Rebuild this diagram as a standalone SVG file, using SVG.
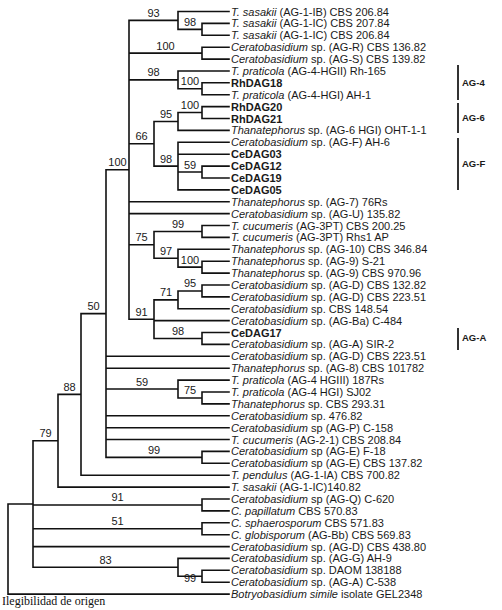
<svg xmlns="http://www.w3.org/2000/svg" width="502" height="610" viewBox="0 0 502 610">
<style>
.br{fill:none;stroke:#111;stroke-width:1.6;stroke-linecap:square}
.lf{font-family:"Liberation Sans",Arial,sans-serif;font-size:11px;fill:#1a1a1a}
.b{font-weight:bold}
.bs{font-family:"Liberation Sans",Arial,sans-serif;font-size:11px;fill:#1a1a1a;text-anchor:middle}
.grp{font-family:"Liberation Sans",Arial,sans-serif;font-size:9.5px;font-weight:bold;fill:#1a1a1a}
.bar{stroke:#333;stroke-width:2}
.cap{font-family:"Liberation Serif","Times New Roman",serif;font-size:12px;fill:#111}
</style>
<rect width="502" height="610" fill="#fff"/>
<g id="connectors">
<path class="br" d="
M178 11.5H229 M178 11.5V29.35 M178 29.35H202 M202 23.4V35.3 M202 23.4H229 M202 35.3H229
M129 20.4H178 M129 20.4V319.2
M129 53.15H202 M202 47.2V59.1 M202 47.2H229 M202 59.1H229
M129 79.9H178 M178 71V88.75 M178 71H229 M178 88.75H202 M202 82.8V94.7 M202 82.8H229 M202 94.7H229
M129 143.8H154 M154 121.5V166.1
M154 121.5H178 M178 112.55V130.4 M178 130.4H229 M178 112.55H202 M202 106.6V118.5 M202 106.6H229 M202 118.5H229
M154 166.1H178 M178 142.3V189.9 M178 142.3H229 M178 154.2H229 M178 189.9H229 M178 172.05H202 M202 166.1V178 M202 166.1H229 M202 178H229
M129 201.7H229 M129 213.6H229
M129 244.8H154 M154 231.45V258.2 M154 231.45H202 M202 225.5V237.4 M202 225.5H229 M202 237.4H229
M154 258.2H178 M178 249.3V267.15 M178 249.3H229 M178 267.15H202 M202 261.2V273.1 M202 261.2H229 M202 273.1H229
M129 319.2H154 M154 299.9V338.45 M154 299.9H178 M178 290.95V308.8 M178 308.8H229 M178 290.95H202 M202 285V296.9 M202 285H229 M202 296.9H229
M154 320.6H229 M154 338.45H202 M202 332.5V344.4 M202 332.5H229 M202 344.4H229
M106 169.8H129 M106 169.8V457.35
M106 356.3H229 M106 368.2H229
M106 389H178 M178 380.1V397.95 M178 380.1H229 M178 397.95H202 M202 392V403.9 M202 392H229 M202 403.9H229
M106 415.8H229 M106 427.7H229 M106 439.5H229
M106 457.35H202 M202 451.4V463.3 M202 451.4H229 M202 463.3H229
M81 313.6H106 M81 313.6V475.2 M81 475.2H229
M58 394.4H81 M58 394.4V487.1 M58 487.1H229
M33 440.75H58 M33 440.75V567.3
M33 504.95H202 M202 499V510.9 M202 499H229 M202 510.9H229
M33 528.75H202 M202 522.8V534.7 M202 522.8H229 M202 534.7H229
M33 546.6H229
M33 567.3H178 M178 558.4V576.25 M178 558.4H229 M178 576.25H202 M202 570.3V582.2 M202 570.3H229 M202 582.2H229
M8 504H33 M8 504V594.1 M8 594.1H229"/>
</g>
<g id="bootstrap" class="bs">
<text x="153.5" y="16.9">93</text>
<text x="190" y="25.8">98</text>
<text x="165.5" y="49.6">100</text>
<text x="153.5" y="76.4">98</text>
<text x="190" y="85.2">100</text>
<text x="190" y="109">100</text>
<text x="166" y="118">95</text>
<text x="141.5" y="140.3">66</text>
<text x="166" y="162.6">98</text>
<text x="190" y="168.5">59</text>
<text x="117.5" y="166.3">100</text>
<text x="178" y="227.9">99</text>
<text x="141.5" y="241.3">75</text>
<text x="166" y="254.7">97</text>
<text x="190" y="263.6">100</text>
<text x="190" y="287.4">95</text>
<text x="166" y="296.4">71</text>
<text x="141.5" y="315.7">91</text>
<text x="178" y="334.9">98</text>
<text x="93.5" y="310.1">50</text>
<text x="142" y="385.5">59</text>
<text x="190" y="394.4">75</text>
<text x="154" y="453.8">99</text>
<text x="69.5" y="390.9">88</text>
<text x="45.5" y="437.2">79</text>
<text x="117.5" y="501.4">91</text>
<text x="117.5" y="525.2">51</text>
<text x="105.5" y="563.8">83</text>
<text x="190" y="582">99</text>
</g>
<g class="lf">
<g id="leaf1"><text x="231" y="15.5"><tspan font-style="italic">T. sasakii</tspan> (AG-1-IB) CBS 206.84</text></g>
<g id="leaf2"><text x="231" y="27.4"><tspan font-style="italic">T. sasakii</tspan> (AG-1-IC) CBS 207.84</text></g>
<g id="leaf3"><text x="231" y="39.3"><tspan font-style="italic">T. sasakii</tspan> (AG-1-IC) CBS 206.84</text></g>
<g id="leaf4"><text x="231" y="51.2"><tspan font-style="italic">Ceratobasidium</tspan> sp. (AG-R) CBS 136.82</text></g>
<g id="leaf5"><text x="231" y="63.1"><tspan font-style="italic">Ceratobasidium</tspan> sp. (AG-S) CBS 139.82</text></g>
<g id="leaf6"><text x="231" y="75"><tspan font-style="italic">T. praticola</tspan> (AG-4-HGII) Rh-165</text></g>
<g id="leaf7"><text x="231" y="86.8" class="b">RhDAG18</text></g>
<g id="leaf8"><text x="231" y="98.7"><tspan font-style="italic">T. praticola</tspan> (AG-4-HGI) AH-1</text></g>
<g id="leaf9"><text x="231" y="110.6" class="b">RhDAG20</text></g>
<g id="leaf10"><text x="231" y="122.5" class="b">RhDAG21</text></g>
<g id="leaf11"><text x="231" y="134.4"><tspan font-style="italic">Thanatephorus</tspan> sp. (AG-6 HGI) OHT-1-1</text></g>
<g id="leaf12"><text x="231" y="146.3"><tspan font-style="italic">Ceratobasidium</tspan> sp. (AG-F) AH-6</text></g>
<g id="leaf13"><text x="231" y="158.2" class="b">CeDAG03</text></g>
<g id="leaf14"><text x="231" y="170.1" class="b">CeDAG12</text></g>
<g id="leaf15"><text x="231" y="182" class="b">CeDAG19</text></g>
<g id="leaf16"><text x="231" y="193.9" class="b">CeDAG05</text></g>
<g id="leaf17"><text x="231" y="205.7"><tspan font-style="italic">Thanatephorus</tspan> sp. (AG-7) 76Rs</text></g>
<g id="leaf18"><text x="231" y="217.6"><tspan font-style="italic">Ceratobasidium</tspan> sp. (AG-U) 135.82</text></g>
<g id="leaf19"><text x="231" y="229.5"><tspan font-style="italic">T. cucumeris</tspan> (AG-3PT) CBS 200.25</text></g>
<g id="leaf20"><text x="231" y="241.4"><tspan font-style="italic">T. cucumeris</tspan> (AG-3PT) Rhs1 AP</text></g>
<g id="leaf21"><text x="231" y="253.3"><tspan font-style="italic">Thanatephorus</tspan> sp. (AG-10) CBS 346.84</text></g>
<g id="leaf22"><text x="231" y="265.2"><tspan font-style="italic">Thanatephorus</tspan> sp. (AG-9) S-21</text></g>
<g id="leaf23"><text x="231" y="277.1"><tspan font-style="italic">Thanatephorus</tspan> sp. (AG-9) CBS 970.96</text></g>
<g id="leaf24"><text x="231" y="289"><tspan font-style="italic">Ceratobasidium</tspan> sp. (AG-D) CBS 132.82</text></g>
<g id="leaf25"><text x="231" y="300.9"><tspan font-style="italic">Ceratobasidium</tspan> sp. (AG-D) CBS 223.51</text></g>
<g id="leaf26"><text x="231" y="312.8"><tspan font-style="italic">Ceratobasidium</tspan> sp. CBS 148.54</text></g>
<g id="leaf27"><text x="231" y="324.6"><tspan font-style="italic">Ceratobasidium</tspan> sp. (AG-Ba) C-484</text></g>
<g id="leaf28"><text x="231" y="336.5" class="b">CeDAG17</text></g>
<g id="leaf29"><text x="231" y="348.4"><tspan font-style="italic">Ceratobasidium</tspan> sp. (AG-A) SIR-2</text></g>
<g id="leaf30"><text x="231" y="360.3"><tspan font-style="italic">Ceratobasidium</tspan> sp. (AG-D) CBS 223.51</text></g>
<g id="leaf31"><text x="231" y="372.2"><tspan font-style="italic">Thanatephorus</tspan> sp. (AG-8) CBS 101782</text></g>
<g id="leaf32"><text x="231" y="384.1"><tspan font-style="italic">T. praticola</tspan> (AG-4 HGIII) 187Rs</text></g>
<g id="leaf33"><text x="231" y="396"><tspan font-style="italic">T. praticola</tspan> (AG-4 HGI) SJ02</text></g>
<g id="leaf34"><text x="231" y="407.9"><tspan font-style="italic">Thanatephorus</tspan> sp. CBS 293.31</text></g>
<g id="leaf35"><text x="231" y="419.8"><tspan font-style="italic">Ceratobasidium</tspan> sp. 476.82</text></g>
<g id="leaf36"><text x="231" y="431.7"><tspan font-style="italic">Ceratobasidium</tspan> sp (AG-P) C-158</text></g>
<g id="leaf37"><text x="231" y="443.5"><tspan font-style="italic">T. cucumeris</tspan> (AG-2-1) CBS 208.84</text></g>
<g id="leaf38"><text x="231" y="455.4"><tspan font-style="italic">Ceratobasidium</tspan> sp (AG-E) F-18</text></g>
<g id="leaf39"><text x="231" y="467.3"><tspan font-style="italic">Ceratobasidium</tspan> sp (AG-E) CBS 137.82</text></g>
<g id="leaf40"><text x="231" y="479.2"><tspan font-style="italic">T. pendulus</tspan> (AG-1-IA) CBS 700.82</text></g>
<g id="leaf41"><text x="231" y="491.1"><tspan font-style="italic">T. sasakii</tspan> (AG-1-IC)140.82</text></g>
<g id="leaf42"><text x="231" y="503"><tspan font-style="italic">Ceratobasidium</tspan> sp (AG-Q) C-620</text></g>
<g id="leaf43"><text x="231" y="514.9"><tspan font-style="italic">C. papillatum</tspan> CBS 570.83</text></g>
<g id="leaf44"><text x="231" y="526.8"><tspan font-style="italic">C. sphaerosporum</tspan> CBS 571.83</text></g>
<g id="leaf45"><text x="231" y="538.7"><tspan font-style="italic">C. globisporum</tspan> (AG-Bb) CBS 569.83</text></g>
<g id="leaf46"><text x="231" y="550.6"><tspan font-style="italic">Ceratobasidium</tspan> sp. (AG-D) CBS 438.80</text></g>
<g id="leaf47"><text x="231" y="562.4"><tspan font-style="italic">Ceratobasidium</tspan> sp. (AG-G) AH-9</text></g>
<g id="leaf48"><text x="231" y="574.3"><tspan font-style="italic">Ceratobasidium</tspan> sp. DAOM 138188</text></g>
<g id="leaf49"><text x="231" y="586.2"><tspan font-style="italic">Ceratobasidium</tspan> sp. (AG-A) C-538</text></g>
<g id="leaf50"><text x="231" y="598.1"><tspan font-style="italic">Botryobasidium simile</tspan> isolate GEL2348</text></g>
</g>
<g id="group-AG4"><line class="bar" x1="458" y1="65" x2="458" y2="100"/><text class="grp" x="462" y="86">AG-4</text></g>
<g id="group-AG6"><line class="bar" x1="458" y1="103" x2="458" y2="133"/><text class="grp" x="462" y="120.5">AG-6</text></g>
<g id="group-AGF"><line class="bar" x1="458" y1="138" x2="458" y2="190"/><text class="grp" x="462" y="166.5">AG-F</text></g>
<g id="group-AGA"><line class="bar" x1="458" y1="328" x2="458" y2="350"/><text class="grp" x="462" y="340.5">AG-A</text></g>
<g id="caption"><text class="cap" x="2" y="605">Ilegibilidad de origen</text></g>
</svg>
